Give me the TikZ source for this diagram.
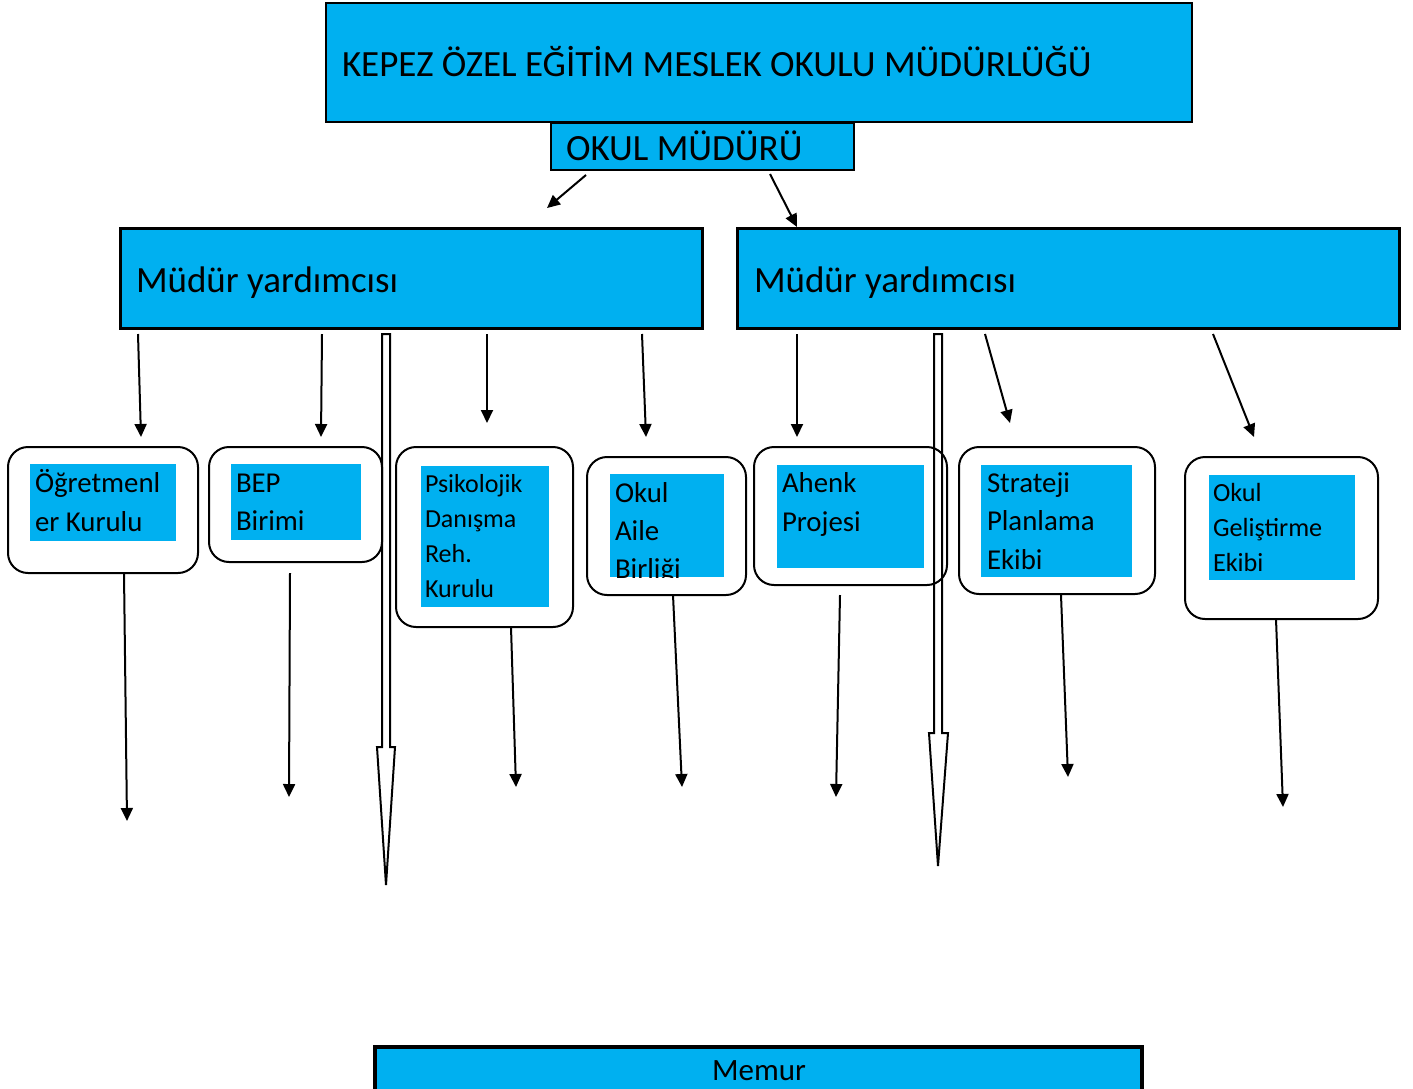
\documentclass[tikz,border=0pt]{standalone}
\usepackage{fontspec}
\setmainfont{Carlito}
\usetikzlibrary{arrows.meta,calc}
\definecolor{cy}{HTML}{00B0F0}
\newcommand\mylines[3]{\fontsize{#1}{#2}\selectfont\begin{tabular}[t]{@{}l@{}}#3\end{tabular}}
\begin{document}
\begin{tikzpicture}[x=0.5pt,y=-0.5pt,
  bx/.style={draw=black,fill=cy,line width=1pt,inner sep=0pt,outer sep=0pt,anchor=north west},
  rbx/.style={draw=black,fill=white,line width=1pt,rounded corners=10pt,inner sep=0pt,outer sep=0pt,anchor=north west},
  ibx/.style={fill=cy,inner sep=0pt,outer sep=0pt,anchor=north west},
  lbl/.style={anchor=base west,inner sep=0pt,outer sep=0pt},
  big/.style={font=\fontsize{18.5}{22}\selectfont},
  arr/.style={line width=1pt,-{Triangle[length=6.5pt,width=6pt]}},
  hollow/.style={draw=black,line width=1pt,line join=miter}]
\useasboundingbox (0,0) rectangle (1413,1088);
\fill[white] (0,0) rectangle (1413,1088);

% top boxes
\node[bx,minimum width=433pt,minimum height=59.5pt] (title) at (326,3) {};
\node[lbl,big] (titletxt) at (342,76) {KEPEZ ÖZEL EĞİTİM MESLEK OKULU MÜDÜRLÜĞÜ};
\node[bx,minimum width=151.5pt,minimum height=23.5pt] (mudur) at (551,123) {};
\node[lbl,big] (mudurtxt) at (566,160) {OKUL MÜDÜRÜ};

\node[bx,line width=1.5pt,minimum width=291pt,minimum height=50pt] (my1) at (120,228) {};
\node[lbl,big] (my1txt) at (136,292) {Müdür yardımcısı};
\node[bx,line width=1.5pt,minimum width=331pt,minimum height=50pt] (my2) at (737,228) {};
\node[lbl,big] (my2txt) at (754,292) {Müdür yardımcısı};

% rounded boxes
\node[rbx,minimum width=95pt,minimum height=63pt] (r1) at (8,447) {};
\node[ibx,minimum width=73pt,minimum height=38.5pt] (b1) at (30,464) {};
\node[lbl] (t1) at (35,492) {\mylines{14.4}{19.5}{Öğretmenl\\er Kurulu}};

\node[rbx,minimum width=86.5pt,minimum height=57.5pt] (r2) at (209,447) {};
\node[ibx,minimum width=65pt,minimum height=38pt] (b2) at (231,464) {};
\node[lbl] (t2) at (236,492) {\mylines{14.4}{19}{BEP\\Birimi}};

\node[rbx,minimum width=88.5pt,minimum height=90pt] (r3) at (396,447) {};
\node[ibx,minimum width=64pt,minimum height=70.5pt] (b3) at (421,466) {};
\node[lbl] (t3) at (425,492) {\mylines{13}{17.5}{Psikolojik\\Danışma\\Reh.\\Kurulu}};

\node[rbx,minimum width=79.5pt,minimum height=69pt] (r4) at (587,457) {};
\node[ibx,minimum width=57pt,minimum height=51.5pt] (b4) at (610,474) {};
\begin{scope}
\clip (b4.north west) rectangle (b4.south east);
\node[lbl] (t4) at (615,502) {\mylines{14.4}{19}{Okul\\Aile\\Birliği}};
\end{scope}

\node[rbx,minimum width=96.5pt,minimum height=69pt] (r5) at (754,447) {};
\node[ibx,minimum width=73.5pt,minimum height=51.5pt] (b5) at (777,465) {};
\node[lbl] (t5) at (782,492) {\mylines{14.4}{19.5}{Ahenk\\Projesi}};

\node[rbx,minimum width=98pt,minimum height=73.5pt] (r6) at (959,447) {};
\node[ibx,minimum width=75.5pt,minimum height=56pt] (b6) at (981,465) {};
\node[lbl] (t6) at (987,492) {\mylines{14.4}{19.25}{Strateji\\Planlama\\Ekibi}};

\node[rbx,minimum width=96.5pt,minimum height=81pt] (r7) at (1185,457) {};
\node[ibx,minimum width=73pt,minimum height=52.5pt] (b7) at (1209,475) {};
\node[lbl] (t7) at (1213,501) {\mylines{13.1}{17.5}{Okul\\Geliştirme\\Ekibi}};

% memur
\node[bx,line width=2pt,minimum width=383.5pt,minimum height=30pt] (memur) at (375,1047) {};
\node[anchor=base,inner sep=0pt,font=\fontsize{15.5}{18}\selectfont] (memurtxt) at (759,1080) {Memur};

% arrow end points
\foreach \n/\x/\y in {
  ma1/586/175, mb1/547/208, ma2/770/174, mb2/797/227,
  la1/138/334, lb1/141/437, la2/322/334, lb2/321/437, la3/487/334, lb3/487/423, la4/642/334, lb4/646/437,
  ra1/797/334, rb1/797/437, ra2/985/334, rb2/1010/423, ra3/1213/334, rb3/1254/437,
  da1/124/573, db1/127/821, da2/290/573, db2/289/797, da3/511/627, db3/516/787,
  da4/673/595, db4/682/787, da5/840/595, db5/836/797, da6/1061/595, db6/1068/777,
  da7/1276/619, db7/1283/807}
  \coordinate (\n) at (\x,\y);

\foreach \a/\b in {ma1/mb1, ma2/mb2, la1/lb1, la2/lb2, la3/lb3, la4/lb4, ra1/rb1, ra2/rb2, ra3/rb3,
  da1/db1, da2/db2, da3/db3, da4/db4, da5/db5, da6/db6, da7/db7}
  \draw[arr] (\a) -- (\b);

% hollow arrows
\coordinate (h1) at (386,334);
\coordinate (h1tip) at (386,885);
\draw[hollow] ($(h1)+(-4,0)$) -- ($(h1)+(4,0)$) -- (390,747) -- (395,747) -- (h1tip) -- (377,747) -- (382,747) -- cycle;
\coordinate (h2) at (938,334);
\coordinate (h2tip) at (938,866);
\draw[hollow] ($(h2)+(-4,0)$) -- ($(h2)+(4,0)$) -- (942,733) -- (948,733) -- (h2tip) -- (929,733) -- (934,733) -- cycle;
\end{tikzpicture}
\end{document}
